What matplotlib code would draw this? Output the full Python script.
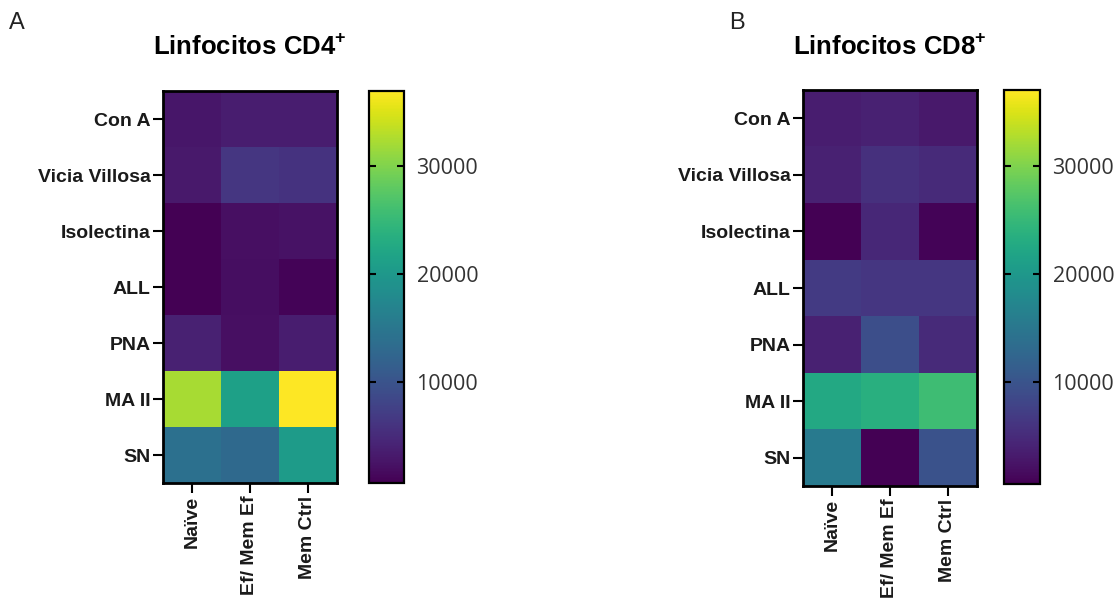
import numpy as np
import matplotlib
matplotlib.use("Agg")
import matplotlib.pyplot as plt

plt.rcParams['font.family'] = ['Liberation Sans', 'DejaVu Sans']
plt.rcParams['mathtext.fontset'] = 'custom'
plt.rcParams['mathtext.rm'] = 'Liberation Sans'
plt.rcParams['mathtext.bf'] = 'Liberation Sans:bold'

# lectins (rows) and cell populations (columns)
lectins = ["Con A", "Vicia Villosa", "Isolectina", "ALL", "PNA", "MA II", "SN"]
populations = ["Naïve", "Ef/ Mem Ef", "Mem Ctrl"]

cd4_values = [
    [2800, 3500, 3500],
    [3100, 6400, 6000],
    [600, 2100, 2400],
    [700, 1900, 900],
    [3900, 2100, 3500],
    [32300, 21300, 37000],
    [14100, 13000, 20600],
]
cd8_values = [
    [3500, 3900, 3100],
    [3900, 5700, 5000],
    [600, 4600, 900],
    [6800, 6400, 6400],
    [3900, 9300, 5000],
    [22500, 23500, 25700],
    [15500, 600, 9700],
]
color_min = 600
color_max = 37000
cbar_ticks = [10000, 20000, 30000]


def draw_heatmap(fig, ax_rect, cax_rect, values, title, letter, letter_x):
    ax = fig.add_axes(ax_rect)
    cax = fig.add_axes(cax_rect)
    im = ax.imshow(np.array(values), cmap="viridis", vmin=color_min, vmax=color_max,
                   aspect="auto", interpolation="nearest")
    ax.set_yticks(range(len(lectins)))
    ax.set_yticklabels(lectins, fontsize=14, fontweight="bold", color="#1a1a1a")
    ax.set_xticks(range(len(populations)))
    ax.set_xticklabels(populations, rotation=90, fontsize=14, fontweight="bold", color="#1a1a1a")
    ax.tick_params(axis="both", length=7, width=1.5, pad=2)
    for sp in ax.spines.values():
        sp.set_linewidth(2)

    cb = fig.colorbar(im, cax=cax, ticks=cbar_ticks)
    cb.outline.set_linewidth(1.6)
    cax.tick_params(axis="y", direction="in", length=5, width=1.5, left=True, right=True,
                    labelsize=15.5, labelcolor="#333333", pad=9)
    for lab in cax.get_yticklabels():
        lab.set_family(["Open Sans", "DejaVu Sans"])

    cx = ax_rect[0] + ax_rect[2] / 2
    fig.text(cx, 1 - 47 / 598, title, ha="center", va="center", fontsize=18.5, fontweight="bold")
    fig.text(letter_x, 1 - 23 / 598, letter, ha="left", va="center", fontsize=17, color="#222222")
    return ax


W, H = 1118, 598
fig = plt.figure(figsize=(W / 100, H / 100), dpi=100)

draw_heatmap(fig, [163 / W, 1 - 483 / H, 174 / W, 392 / H], [369 / W, 1 - 483 / H, 35 / W, 392 / H],
             cd4_values, r"Linfocitos CD4$^{\mathbf{+}}$", "A", 9 / W)
draw_heatmap(fig, [803 / W, 1 - 486 / H, 174 / W, 396 / H], [1004 / W, 1 - 484 / H, 36 / W, 394 / H],
             cd8_values, r"Linfocitos CD8$^{\mathbf{+}}$", "B", 729 / W)

fig.savefig("out.png", dpi=100, facecolor="white")
